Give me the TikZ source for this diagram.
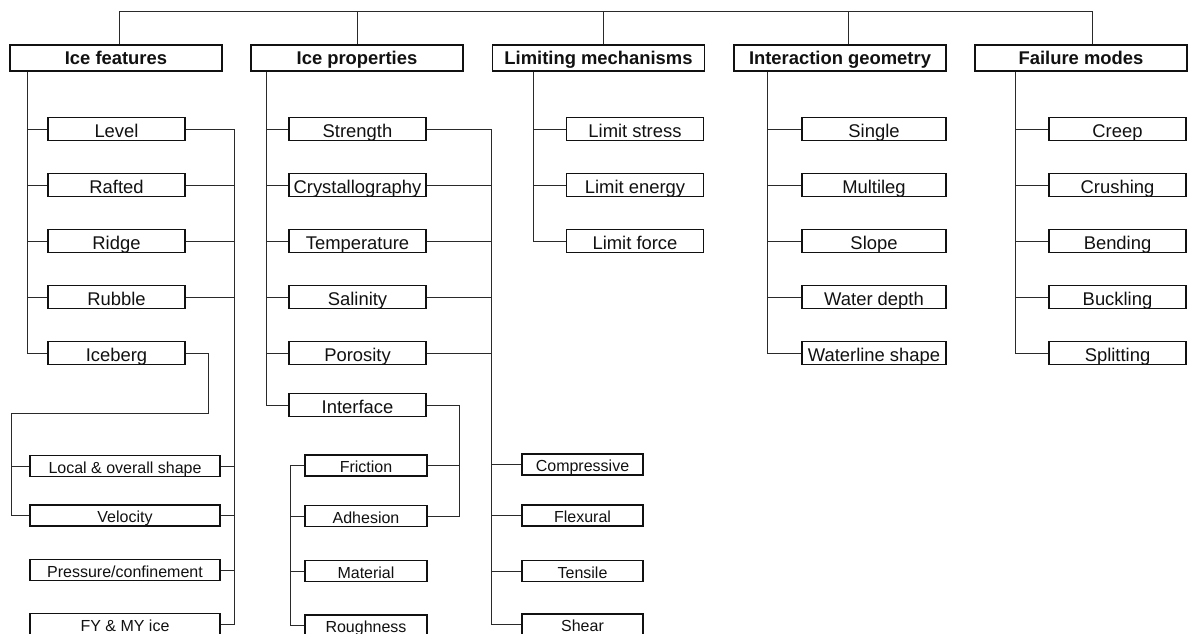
\documentclass[tikz,border=0pt]{standalone}
\usepackage{fontspec}
\setmainfont{Liberation Sans}
\usepackage{xcolor}
\usepackage{tikz}
\definecolor{icInk}{HTML}{111111}
\definecolor{icLine}{HTML}{2A2A2A}
\tikzset{
  ic diagram/.style={x=1pt, y=-1pt, text=icInk},
  ic box/.style={draw=icInk, fill=white, line width=1.5pt, inner sep=0pt,
    minimum width=137pt, minimum height=23pt, text height=17pt, text depth=0pt,
    font=\fontsize{18.4}{22}\selectfont},
  ic head/.style={ic box, minimum width=212pt, minimum height=26pt,
    text height=12pt, font=\fontsize{18.4}{22}\selectfont\bfseries},
  ic small/.style={ic box, minimum width=122pt, minimum height=21pt,
    text height=14.6pt, font=\fontsize{16}{19}\selectfont},
  ic line/.style={draw=icLine, line width=0.9pt}
}

\begin{document}
\begin{tikzpicture}[ic diagram]
\useasboundingbox (0,0) rectangle (1188,634);
\clip (0,0) rectangle (1188,634);

\node[ic head] (feat) at (116,58) {Ice features};
\node[ic head] (prop) at (357,58) {Ice properties};
\node[ic head] (lim) at (598.5,58) {Limiting mechanisms};
\node[ic head] (geo) at (840,58) {Interaction geometry};
\node[ic head] (fail) at (1081,58) {Failure modes};

\foreach \n/\y/\t in {level/129/Level,rafted/185/Rafted,ridge/241/Ridge,rubble/297/Rubble,iceberg/353/Iceberg}
  \node[ic box] (\n) at (116.5,\y) {\t};
\foreach \n/\y/\t in {local/466/{Local \& overall shape},velocity/515.5/Velocity,pressure/570/{Pressure/confinement},fy/624/{FY \& MY ice}}
  \node[ic small,minimum width=190pt] (\n) at (125,\y) {\t};

\foreach \n/\y/\t in {strength/129/Strength,cryst/185/Crystallography,temp/241/Temperature,salin/297/Salinity,poros/353/Porosity,interface/405/Interface}
  \node[ic box] (\n) at (357.5,\y) {\t};
\foreach \n/\y/\t in {friction/465.5/Friction,adhesion/516/Adhesion,material/571/Material,rough/625.5/Roughness}
  \node[ic small] (\n) at (366,\y) {\t};
\foreach \n/\y/\t in {compr/464.5/Compressive,flex/515.5/Flexural,tens/571/Tensile,shear/624.5/Shear}
  \node[ic small,minimum width=121pt] (\n) at (582.5,\y) {\t};

\foreach \n/\y/\t in {lstress/129/{Limit stress},lenergy/185/{Limit energy},lforce/241/{Limit force}}
  \node[ic box] (\n) at (635,\y) {\t};
\foreach \n/\y/\t in {single/129/Single,multi/185/Multileg,slope/241/Slope,depth/297/{Water depth},wline/353/{Waterline shape}}
  \node[ic box,minimum width=144pt] (\n) at (874,\y) {\t};
\foreach \n/\y/\t in {creep/129/Creep,crush/185/Crushing,bend/241/Bending,buckl/297/Buckling,split/353/Splitting}
  \node[ic box] (\n) at (1117.5,\y) {\t};

\coordinate (dropA) at (119,11);
\coordinate (dropB) at (357,11);
\coordinate (dropC) at (603,11);
\coordinate (dropD) at (848,11);
\coordinate (dropE) at (1092,11);
\coordinate (featL) at (27,0);
\coordinate (featR) at (234,0);
\coordinate (bergR) at (208,413);
\coordinate (bergL) at (11,413);
\coordinate (propL) at (266,0);
\coordinate (propR) at (491,0);
\coordinate (intfR) at (459,0);
\coordinate (intfL) at (290,0);
\coordinate (limL) at (533,0);
\coordinate (geoL) at (767,0);
\coordinate (failL) at (1015,0);

\draw[ic line] (feat.north -| dropA) -- (dropA) -- (dropE) -- (fail.north -| dropE);
\foreach \n/\d in {prop/dropB,lim/dropC,geo/dropD}
  \draw[ic line] (\n.north -| \d) -- (\d);

\draw[ic line] (feat.south -| featL) |- (iceberg.west);
\foreach \n in {level,rafted,ridge,rubble}
  \draw[ic line] (\n.west -| featL) -- (\n.west);
\draw[ic line] (level.east) -| (featR |- fy.east) -- (fy.east);
\foreach \n in {rafted,ridge,rubble,local,velocity,pressure}
  \draw[ic line] (\n.east) -- (\n.east -| featR);
\draw[ic line] (iceberg.east) -| (bergR) -- (bergL) |- (velocity.west);
\draw[ic line] (local.west -| bergL) -- (local.west);

\draw[ic line] (prop.south -| propL) |- (interface.west);
\foreach \n in {strength,cryst,temp,salin,poros}
  \draw[ic line] (\n.west -| propL) -- (\n.west);
\draw[ic line] (strength.east) -| (propR |- shear.west) -- (shear.west);
\foreach \n in {cryst,temp,salin,poros}
  \draw[ic line] (\n.east) -- (\n.east -| propR);
\foreach \n in {compr,flex,tens}
  \draw[ic line] (\n.west -| propR) -- (\n.west);
\draw[ic line] (interface.east) -| (intfR |- adhesion.east) -- (adhesion.east);
\draw[ic line] (friction.east) -- (friction.east -| intfR);
\draw[ic line] (friction.west) -| (intfL |- rough.west) -- (rough.west);
\foreach \n in {adhesion,material}
  \draw[ic line] (\n.west -| intfL) -- (\n.west);

\draw[ic line] (lim.south -| limL) |- (lforce.west);
\foreach \n in {lstress,lenergy}
  \draw[ic line] (\n.west -| limL) -- (\n.west);
\draw[ic line] (geo.south -| geoL) |- (wline.west);
\foreach \n in {single,multi,slope,depth}
  \draw[ic line] (\n.west -| geoL) -- (\n.west);
\draw[ic line] (fail.south -| failL) |- (split.west);
\foreach \n in {creep,crush,bend,buckl}
  \draw[ic line] (\n.west -| failL) -- (\n.west);
\end{tikzpicture}
\end{document}
